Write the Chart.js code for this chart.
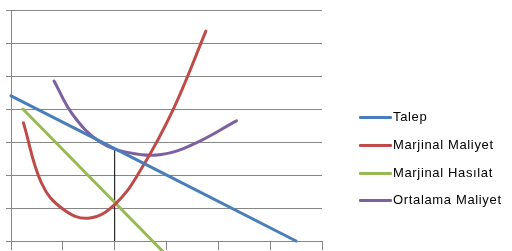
<!DOCTYPE html>
<html>
<head>
<meta charset="utf-8">
<script src="https://cdn.jsdelivr.net/npm/chart.js@4"></script>
<style>
  html, body { margin: 0; padding: 0; background: #fff; }
  #wrap { position: relative; width: 512px; height: 251px; }
  #legend { position: absolute; left: 359px; top: 0; font-family: "Liberation Sans", Arial, sans-serif; font-size: 13px; color: #000; letter-spacing: 0.65px; }
  .item { position: absolute; left: 0; white-space: nowrap; height: 16px; line-height: 16px; }
  .swatch { position: absolute; left: 0; top: 7px; width: 33px; height: 3px; border-radius: 1px; }
  .label { position: absolute; left: 34px; top: 0; }
</style>
</head>
<body>
<div id="wrap">
  <canvas id="chart" width="512" height="251"></canvas>
  <div id="legend"></div>
</div>
<script>
// series labels and colours
const labels = ['Talep', 'Marjinal Maliyet', 'Marjinal Hasılat', 'Ortalama Maliyet'];
const colors = ['#4A7EBB', '#BE4B48', '#98B954', '#7D60A0'];

// Talep (demand) - straight line
const talepX = [0, 5.5];
const talepY = [4.4, 0];

// Marjinal Maliyet - U shaped curve
const mmX = [0.24, 0.59, 1.0, 1.5, 2.01, 2.5, 3.13, 3.76];
const mmY = [3.58, 1.75, 0.97, 0.69, 1.12, 2.15, 3.99, 6.36];

// Marjinal Hasılat - straight line running below the axis
const mhX = [0.23, 2.95];
const mhY = [4.0, -0.35];

// Ortalama Maliyet
const omX = [0.83, 1.2, 1.72, 2.3, 2.9, 3.5, 4.35];
const omY = [4.85, 3.81, 3.0, 2.67, 2.62, 2.92, 3.64];

// vertical marker at the chosen quantity
const markX = [2.0, 2.0];
const markY = [0, 2.82];

function pts(xs, ys) {
    return xs.map((x, i) => ({ x: x, y: ys[i] }));
}

const series = [
    pts(talepX, talepY),
    pts(mmX, mmY),
    pts(mhX, mhY),
    pts(omX, omY)
];

const datasets = series.map((d, i) => ({
    label: labels[i],
    data: d,
    borderColor: colors[i],
    borderWidth: 3,
    pointRadius: 0,
    showLine: true,
    tension: 0.4,
    clip: false,
    borderCapStyle: 'round'
}));

datasets.push({
    label: 'marker',
    data: pts(markX, markY),
    borderColor: '#000',
    borderWidth: 1,
    pointRadius: 0,
    showLine: true
});

new Chart(document.getElementById('chart'), {
    type: 'scatter',
    data: { datasets: datasets },
    options: {
        responsive: false,
        animation: false,
        layout: { padding: { left: 6, top: 10, right: 190, bottom: 1 } },
        plugins: { legend: { display: false }, tooltip: { enabled: false } },
        scales: {
            x: {
                min: 0, max: 6,
                ticks: { display: false, stepSize: 1 },
                grid: { drawOnChartArea: false, color: '#868686', tickLength: 9 },
                border: { color: '#868686' }
            },
            y: {
                min: 0, max: 7,
                ticks: { display: false, stepSize: 1 },
                grid: { color: '#868686', tickLength: 5 },
                border: { color: '#868686' }
            }
        }
    }
});

// legend on the right
const legendTops = [109, 137, 165, 192];
const legend = document.getElementById('legend');
labels.forEach((l, i) => {
    const item = document.createElement('div');
    item.className = 'item';
    item.style.top = legendTops[i] + 'px';
    item.innerHTML = '<span class="swatch" style="background:' + colors[i] + '"></span><span class="label">' + l + '</span>';
    legend.appendChild(item);
});
</script>
</body>
</html>
